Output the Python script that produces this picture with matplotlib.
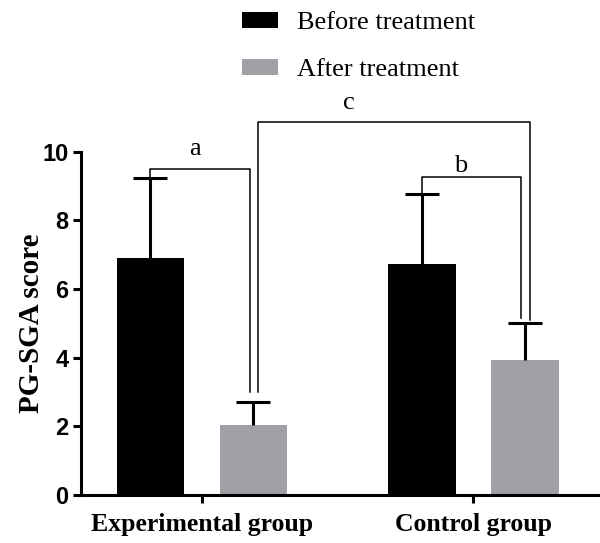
import numpy as np
import matplotlib
matplotlib.use("Agg")
import matplotlib.pyplot as plt

groups = ["Experimental group", "Control group"]
series = ["Before treatment", "After treatment"]
before_mean = [6.92, 6.72]
before_err = [2.32, 2.06]
after_mean = [2.05, 3.94]
after_err = [0.66, 1.06]
sig_labels = ["a", "b", "c"]

colors = ["#000000", "#a09fa5"]
serif = "Liberation Serif"
sans = "Liberation Sans"

fig = plt.figure(figsize=(6, 5.43), dpi=100)
ax = fig.add_axes([0.135, 0.0884, 0.862, 0.632])

x = np.arange(len(groups))
off = 0.19
w = 0.25
err_kw = dict(elinewidth=2.2, capthick=2.2, ecolor="black")

b1 = ax.bar(x - off, before_mean, w, color=colors[0], label=series[0],
            yerr=[np.zeros(2), before_err], capsize=12, error_kw=err_kw)
b2 = ax.bar(x + off, after_mean, w, color=colors[1], label=series[1],
            yerr=[np.zeros(2), after_err], capsize=12, error_kw=err_kw)
# only the upper cap is drawn in the original
for b in (b1, b2):
    b.errorbar.lines[1][0].set_visible(False)

# significance brackets
lw = 1.1
tops_b = np.array(before_mean) + np.array(before_err)
tops_a = np.array(after_mean) + np.array(after_err)
# a: experimental before vs after
ax.plot([x[0] - off, x[0] - off, x[0] + off - 0.012, x[0] + off - 0.012],
        [tops_b[0], 9.5, 9.5, tops_a[0] + 0.3], color="black", lw=lw, clip_on=False)
ax.text(-0.026, 10.09, sig_labels[0], ha="center", va="center",
        fontsize=19, family=serif)
# b: control before vs after
ax.plot([x[1] - off, x[1] - off, x[1] + off - 0.015, x[1] + off - 0.015],
        [tops_b[1], 9.27, 9.27, tops_a[1] + 0.15], color="black", lw=lw, clip_on=False)
ax.text(0.952, 9.59, sig_labels[1], ha="center", va="center",
        fontsize=19, family=serif)
# c: experimental after vs control after
ax.plot([x[0] + off + 0.015, x[0] + off + 0.015, x[1] + off + 0.02, x[1] + off + 0.02],
        [tops_a[0] + 0.3, 10.87, 10.87, tops_a[1] + 0.1], color="black", lw=lw, clip_on=False)
ax.text(0.542, 11.43, sig_labels[2], ha="center", va="center",
        fontsize=19, family=serif)

ax.set_xlim(-0.446, 1.461)
ax.set_ylim(0, 10)
ax.set_yticks([0, 2, 4, 6, 8, 10])
ax.set_xticks(x)
ax.set_xticklabels(groups, fontsize=18.5, family=serif, fontweight="bold")
for t in ax.get_yticklabels():
    t.set_fontsize(17)
    t.set_family(sans)
    t.set_fontweight("bold")
ax.set_ylabel("PG-SGA score", fontsize=21, family=serif, fontweight="bold")
ax.yaxis.set_label_coords(-0.07, 0.5)

for s in ["top", "right"]:
    ax.spines[s].set_visible(False)
for s in ["left", "bottom"]:
    ax.spines[s].set_linewidth(2.2)
ax.tick_params(axis="both", width=2.2, length=6, direction="out", pad=3)
ax.tick_params(axis="x", pad=7)

fig.legend(handles=[b1, b2], labels=series, loc="upper left",
           bbox_to_anchor=(0.403, 0.978), frameon=False, borderpad=0,
           borderaxespad=0, handlelength=1.36, handleheight=0.55,
           handletextpad=0.75, labelspacing=0.93,
           prop={"family": serif, "size": 19})

fig.savefig("out.png", dpi=100)
